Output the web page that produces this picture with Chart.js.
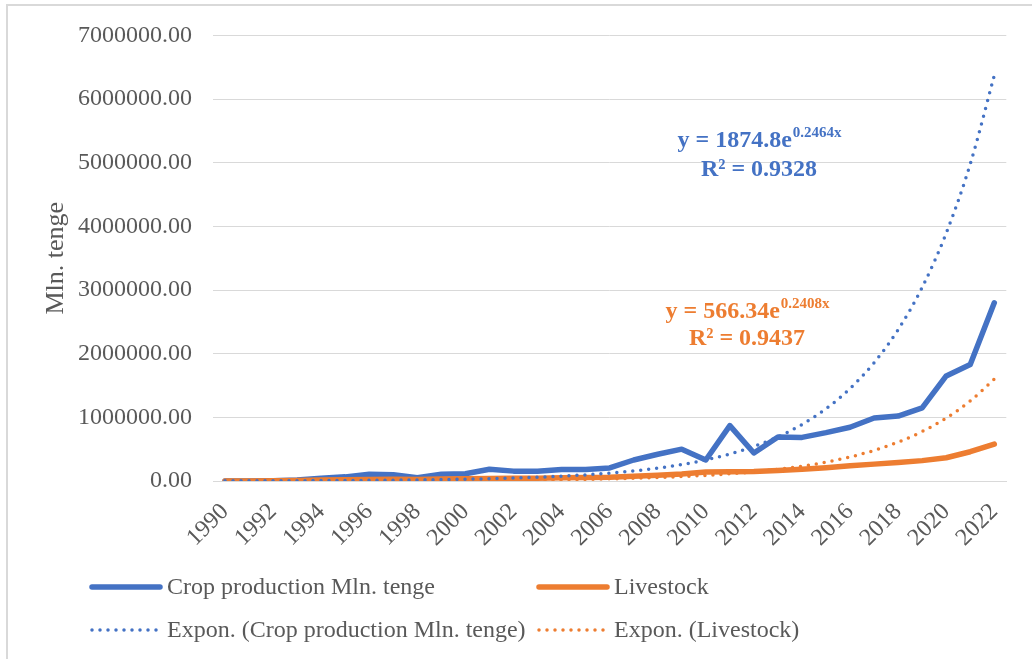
<!DOCTYPE html>
<html>
<head>
<meta charset="utf-8">
<script src="https://cdn.jsdelivr.net/npm/chart.js@4.4.1/dist/chart.umd.min.js"></script>
<style>
  html, body { margin: 0; padding: 0; background: #fff; }
  #wrap { position: relative; width: 1032px; height: 659px; }
  canvas { display: block; }
</style>
</head>
<body>
<div id="wrap"><canvas id="c" width="1032" height="659"></canvas></div>
<script>
// ---- Data ----
const years = ['1990','1991','1992','1993','1994','1995','1996','1997','1998','1999','2000','2001','2002','2003','2004','2005','2006','2007','2008','2009','2010','2011','2012','2013','2014','2015','2016','2017','2018','2019','2020','2021','2022'];

const cropProduction = [1000, 1500, 5000, 15000, 45000, 65000, 105000, 100000, 50000, 105000, 115000, 185000, 155000, 155000, 180000, 180000, 205000, 330000, 420000, 500000, 330000, 870000, 440000, 690000, 685000, 760000, 845000, 990000, 1020000, 1150000, 1650000, 1830000, 2800000];

const livestock = [300, 600, 3000, 8000, 15000, 20000, 25000, 28000, 25000, 30000, 35000, 40000, 42000, 45000, 50000, 55000, 60000, 75000, 90000, 110000, 140000, 145000, 150000, 165000, 185000, 210000, 240000, 265000, 290000, 320000, 365000, 460000, 580000];

// Exponential trendline values (as displayed: y = 1874.8e^0.2464x, x = 1..33)
const cropTrend = [2399, 3069, 3926, 5023, 6427, 8222, 10520, 13459, 17220, 22031, 28187, 36063, 46139, 59030, 75523, 96626, 123623, 158164, 202355, 258894, 331229, 423775, 542178, 693662, 887471, 1135430, 1452680, 1858560, 2377840, 3042210, 3892200, 4979680, 6371000];

// Exponential trendline values (as displayed: y = 566.34e^0.2408x, x = 1..33)
const livestockTrend = [720, 917, 1166, 1484, 1888, 2402, 3056, 3888, 4947, 6293, 8007, 10187, 12960, 16489, 20979, 26691, 33958, 43204, 54967, 69933, 88974, 113199, 144020, 183233, 233122, 296595, 377351, 480095, 610812, 777123, 988717, 1257920, 1600440];

const yTicks = [0, 1000000, 2000000, 3000000, 4000000, 5000000, 6000000, 7000000];

const seriesNames = ['Crop production Mln. tenge', 'Livestock', 'Expon. (Crop production Mln. tenge)', 'Expon. (Livestock)'];
const yTitle = 'Mln. tenge';

const BLUE = '#4472C4';
const ORANGE = '#ED7D31';
const GREY = '#595959';
const GRID = '#d9d9d9';
const FONT = "'Liberation Serif', 'Times New Roman', serif";

// ---- Plugins ----
const framePlugin = {
  id: 'frame',
  beforeDraw(chart) {
    const ctx = chart.ctx;
    ctx.save();
    ctx.fillStyle = '#fff';
    ctx.fillRect(0, 0, chart.width, chart.height);
    ctx.strokeStyle = GRID;
    ctx.lineWidth = 2;
    ctx.beginPath();
    ctx.moveTo(7, chart.height);
    ctx.lineTo(7, 5);
    ctx.lineTo(chart.width, 5);
    ctx.stroke();
    ctx.restore();
  }
};

function drawEq(ctx, cx, cy, base, sup, color) {
  ctx.save();
  ctx.fillStyle = color;
  ctx.textBaseline = 'middle';
  ctx.textAlign = 'left';
  const mainFont = 'bold 24px ' + FONT;
  const supFont = 'bold 15px ' + FONT;
  ctx.font = mainFont;
  const w1 = ctx.measureText(base).width;
  ctx.font = supFont;
  const w2 = ctx.measureText(sup).width;
  const x0 = cx - (w1 + w2) / 2;
  ctx.font = mainFont;
  ctx.fillText(base, x0, cy);
  ctx.font = supFont;
  ctx.fillText(sup, x0 + w1 + 1, cy - 8);
  ctx.restore();
}
function drawCentered(ctx, cx, cy, text, color) {
  ctx.save();
  ctx.fillStyle = color;
  ctx.textBaseline = 'middle';
  ctx.textAlign = 'center';
  ctx.font = 'bold 24px ' + FONT;
  ctx.fillText(text, cx, cy);
  ctx.restore();
}

const annotationPlugin = {
  id: 'eqs',
  afterDatasetsDraw(chart) {
    const ctx = chart.ctx;
    drawEq(ctx, 759, 141, 'y = 1874.8e', '0.2464x', BLUE);
    drawCentered(ctx, 759, 170, 'R\u00B2 = 0.9328', BLUE);
    drawEq(ctx, 747, 312, 'y = 566.34e', '0.2408x', ORANGE);
    drawCentered(ctx, 747, 339, 'R\u00B2 = 0.9437', ORANGE);
  }
};

const legendPlugin = {
  id: 'customLegend',
  afterDraw(chart) {
    const ctx = chart.ctx;
    const items = [
      {x: 90, y: 587, color: BLUE, dotted: false, text: seriesNames[0]},
      {x: 537, y: 587, color: ORANGE, dotted: false, text: seriesNames[1]},
      {x: 90, y: 630, color: BLUE, dotted: true, text: seriesNames[2]},
      {x: 537, y: 630, color: ORANGE, dotted: true, text: seriesNames[3]}
    ];
    ctx.save();
    items.forEach(it => {
      ctx.strokeStyle = it.color;
      ctx.lineCap = 'round';
      if (it.dotted) {
        ctx.lineWidth = 3.5;
        ctx.setLineDash([0, 8]);
      } else {
        ctx.lineWidth = 5.5;
        ctx.setLineDash([]);
      }
      ctx.beginPath();
      ctx.moveTo(it.x + 2, it.y);
      ctx.lineTo(it.x + 70, it.y);
      ctx.stroke();
      ctx.setLineDash([]);
      ctx.fillStyle = GREY;
      ctx.font = '24px ' + FONT;
      ctx.textBaseline = 'middle';
      ctx.textAlign = 'left';
      ctx.fillText(it.text, it.x + 77, it.y + 1);
    });
    ctx.restore();
  }
};

// ---- Chart ----
new Chart(document.getElementById('c'), {
  type: 'line',
  data: {
    labels: years,
    datasets: [
      { label: seriesNames[0], data: cropProduction, borderColor: BLUE, backgroundColor: BLUE, borderWidth: 5.5, pointRadius: 0, tension: 0, order: 2, borderCapStyle: 'round', borderJoinStyle: 'round' },
      { label: seriesNames[1], data: livestock, borderColor: ORANGE, backgroundColor: ORANGE, borderWidth: 5.5, pointRadius: 0, tension: 0, order: 1, borderCapStyle: 'round', borderJoinStyle: 'round' },
      { label: seriesNames[2], data: cropTrend, borderColor: BLUE, backgroundColor: BLUE, borderWidth: 3.5, borderDash: [0, 8], borderCapStyle: 'round', pointRadius: 0, tension: 0.4, cubicInterpolationMode: 'monotone', order: 0 },
      { label: seriesNames[3], data: livestockTrend, borderColor: ORANGE, backgroundColor: ORANGE, borderWidth: 3.5, borderDash: [0, 8], borderCapStyle: 'round', pointRadius: 0, tension: 0.4, cubicInterpolationMode: 'monotone', order: 0 }
    ]
  },
  options: {
    responsive: false,
    animation: false,
    events: [],
    layout: { padding: { left: 41, right: 23, top: 22, bottom: 108 } },
    plugins: {
      legend: { display: false },
      tooltip: { enabled: false }
    },
    scales: {
      x: {
        offset: true,
        grid: { display: false, drawTicks: false },
        border: { display: true, color: GRID, width: 1 },
        afterFit(scale) { scale.height = 70; },
        ticks: {
          autoSkip: false,
          maxRotation: 45,
          minRotation: 45,
          padding: 17,
          color: GREY,
          font: { family: FONT, size: 24 },
          callback: function(v, i) { return i % 2 === 0 ? years[i] : ''; }
        }
      },
      y: {
        min: 0,
        max: 7000000,
        afterBuildTicks(axis) { axis.ticks = yTicks.map(v => ({ value: v })); },
        afterFit(scale) { scale.width = 172; },
        grid: { color: GRID, lineWidth: 1, drawTicks: false },
        border: { display: false },
        ticks: {
          padding: 21,
          color: GREY,
          font: { family: FONT, size: 24 },
          callback: v => Number(v).toFixed(2)
        },
        title: {
          display: true,
          text: yTitle,
          color: GREY,
          font: { family: FONT, size: 26 },
          padding: { top: 0, bottom: 0 }
        }
      }
    }
  },
  plugins: [framePlugin, annotationPlugin, legendPlugin]
});
</script>
</body>
</html>
